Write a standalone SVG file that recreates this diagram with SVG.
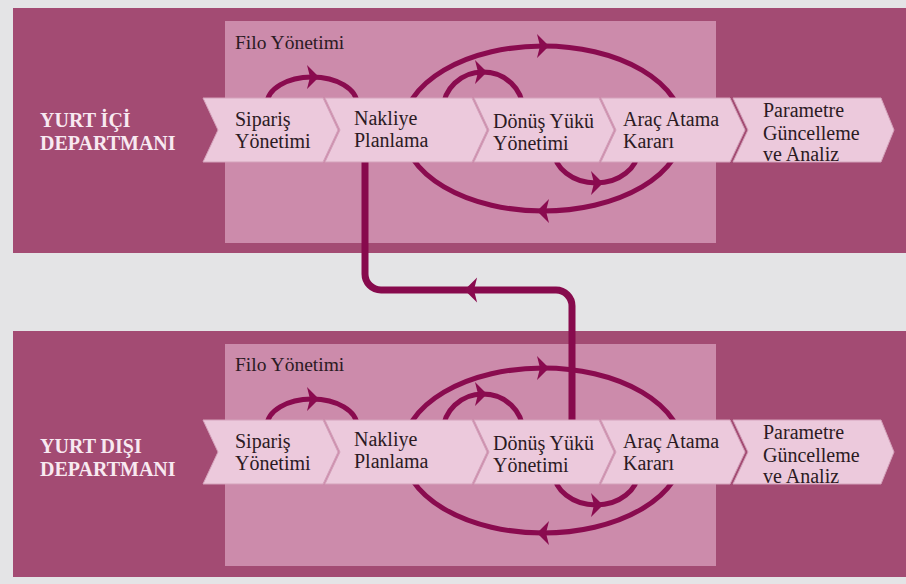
<svg xmlns="http://www.w3.org/2000/svg" xmlns:xlink="http://www.w3.org/1999/xlink" width="906" height="584" viewBox="0 0 906 584">
  <style>
    .band { fill: #a34b73; }
    .fleet { fill: #cc8bab; }
    .chev { fill: #ecc9dc; stroke: #d4a2bb; stroke-width: 1; }
    .lbl { font-family: 'Liberation Serif', 'Times New Roman', serif; font-size: 20px; fill: #2b1a23; }
    .fleet-lbl { font-family: 'Liberation Serif', 'Times New Roman', serif; font-size: 19.5px; fill: #2b1a23; }
    .dept { font-family: 'Liberation Serif', 'Times New Roman', serif; font-size: 20px; font-weight: bold; fill: #f8e9f1; }
    .loop { fill: none; stroke: #8a0b4f; stroke-width: 5; }
    .link { fill: none; stroke: #870a4d; stroke-width: 7; }
    .head { fill: #8a0b4f; }
  </style>
  <defs>
    <!-- swept arrowhead, tip at +x -->
    <path id="head" class="head" d="M 10 0 L -2 -12 L 1 0 L -2 12 Z"/>
    <clipPath id="clipParam">
      <path d="M 733 98 H 881 L 894 130 L 881 162 H 733 L 748 130 Z"/>
    </clipPath>
  </defs>

  <rect width="906" height="584" fill="#e4e4e6"/>

  <!-- domestic department -->
  <g id="panel-domestic">
    <rect class="band" x="13" y="8" width="893" height="245"/>
    <rect class="fleet" x="225" y="21" width="491" height="222"/>
    <text class="fleet-lbl" x="235" y="49">Filo Yönetimi</text>
    <text class="dept" x="40" y="127">YURT İÇİ</text>
    <text class="dept" x="40" y="150">DEPARTMANI</text>
  </g>

  <!-- foreign department -->
  <g id="panel-foreign">
    <rect class="band" x="13" y="331" width="893" height="246"/>
    <rect class="fleet" x="225" y="344" width="491" height="222"/>
    <text class="fleet-lbl" x="235" y="371">Filo Yönetimi</text>
    <text class="dept" x="40" y="453">YURT DIŞI</text>
    <text class="dept" x="40" y="476">DEPARTMANI</text>
  </g>

  <!-- feedback loops and the link between departments -->
  <g id="connectors">
    <g id="loops-domestic">
      <path class="loop" d="M 267 104 A 45 27 0 0 1 357 104"/>
      <use xlink:href="#head" transform="translate(309,77)"/>
      <ellipse class="loop" cx="543" cy="128.5" rx="140" ry="82.5"/>
      <use xlink:href="#head" transform="translate(539,46)"/>
      <use xlink:href="#head" transform="translate(547,211) rotate(180)"/>
      <path class="loop" d="M 443 110 A 40 38 0 0 1 523 110"/>
      <use xlink:href="#head" transform="translate(477,72)"/>
      <path class="loop" d="M 554 150 A 42 33 0 0 0 638 150"/>
      <use xlink:href="#head" transform="translate(593,183)"/>
    </g>
    <g id="loops-foreign" transform="translate(0,322)">
      <path class="loop" d="M 267 104 A 45 27 0 0 1 357 104"/>
      <use xlink:href="#head" transform="translate(309,77)"/>
      <ellipse class="loop" cx="543" cy="128.5" rx="140" ry="82.5"/>
      <use xlink:href="#head" transform="translate(539,46)"/>
      <use xlink:href="#head" transform="translate(547,211) rotate(180)"/>
      <path class="loop" d="M 443 110 A 40 38 0 0 1 523 110"/>
      <use xlink:href="#head" transform="translate(477,72)"/>
      <path class="loop" d="M 554 150 A 42 33 0 0 0 638 150"/>
      <use xlink:href="#head" transform="translate(593,183)"/>
    </g>
    <g id="link-foreign-to-domestic">
      <path class="link" d="M 365 160 V 274 A 16 16 0 0 0 381 290 H 556 A 16 16 0 0 1 572 306 V 422"/>
      <use xlink:href="#head" transform="translate(475,290) rotate(180) scale(1.05)"/>
    </g>
  </g>

  <!-- domestic process steps -->
  <g id="steps-domestic">
    <g id="d-siparis">
      <path class="chev" d="M 203 98 H 323 L 338 130 L 323 162 H 203 L 218 130 Z"/>
      <text class="lbl" x="235" y="126">Sipariş</text>
      <text class="lbl" x="235" y="148">Yönetimi</text>
    </g>
    <g id="d-nakliye">
      <path class="chev" d="M 325 98 H 472 L 487 130 L 472 162 H 325 L 340 130 Z"/>
      <text class="lbl" x="354" y="125">Nakliye</text>
      <text class="lbl" x="354" y="147">Planlama</text>
    </g>
    <g id="d-donus">
      <path class="chev" d="M 474 98 H 599 L 614 130 L 599 162 H 474 L 489 130 Z"/>
      <text class="lbl" x="493" y="128">Dönüş Yükü</text>
      <text class="lbl" x="493" y="150">Yönetimi</text>
    </g>
    <g id="d-arac">
      <path class="chev" d="M 601 98 H 730 L 745 130 L 730 162 H 601 L 616 130 Z"/>
      <text class="lbl" x="623" y="126">Araç Atama</text>
      <text class="lbl" x="623" y="148">Kararı</text>
    </g>
    <g id="d-parametre">
      <path class="chev" d="M 733 98 H 881 L 894 130 L 881 162 H 733 L 748 130 Z"/>
      <g clip-path="url(#clipParam)">
        <text class="lbl" x="763" y="117">Parametre</text>
        <text class="lbl" x="763" y="140">Güncelleme</text>
        <text class="lbl" x="763" y="161">ve Analiz</text>
      </g>
    </g>
  </g>

  <!-- foreign process steps -->
  <g id="steps-foreign" transform="translate(0,322)">
    <g id="f-siparis">
      <path class="chev" d="M 203 98 H 323 L 338 130 L 323 162 H 203 L 218 130 Z"/>
      <text class="lbl" x="235" y="126">Sipariş</text>
      <text class="lbl" x="235" y="148">Yönetimi</text>
    </g>
    <g id="f-nakliye">
      <path class="chev" d="M 325 98 H 472 L 487 130 L 472 162 H 325 L 340 130 Z"/>
      <text class="lbl" x="354" y="124">Nakliye</text>
      <text class="lbl" x="354" y="146">Planlama</text>
    </g>
    <g id="f-donus">
      <path class="chev" d="M 474 98 H 599 L 614 130 L 599 162 H 474 L 489 130 Z"/>
      <text class="lbl" x="493" y="128">Dönüş Yükü</text>
      <text class="lbl" x="493" y="150">Yönetimi</text>
    </g>
    <g id="f-arac">
      <path class="chev" d="M 601 98 H 730 L 745 130 L 730 162 H 601 L 616 130 Z"/>
      <text class="lbl" x="623" y="126">Araç Atama</text>
      <text class="lbl" x="623" y="148">Kararı</text>
    </g>
    <g id="f-parametre">
      <path class="chev" d="M 733 98 H 881 L 894 130 L 881 162 H 733 L 748 130 Z"/>
      <g clip-path="url(#clipParam)">
        <text class="lbl" x="763" y="117">Parametre</text>
        <text class="lbl" x="763" y="140">Güncelleme</text>
        <text class="lbl" x="763" y="161">ve Analiz</text>
      </g>
    </g>
  </g>
</svg>
